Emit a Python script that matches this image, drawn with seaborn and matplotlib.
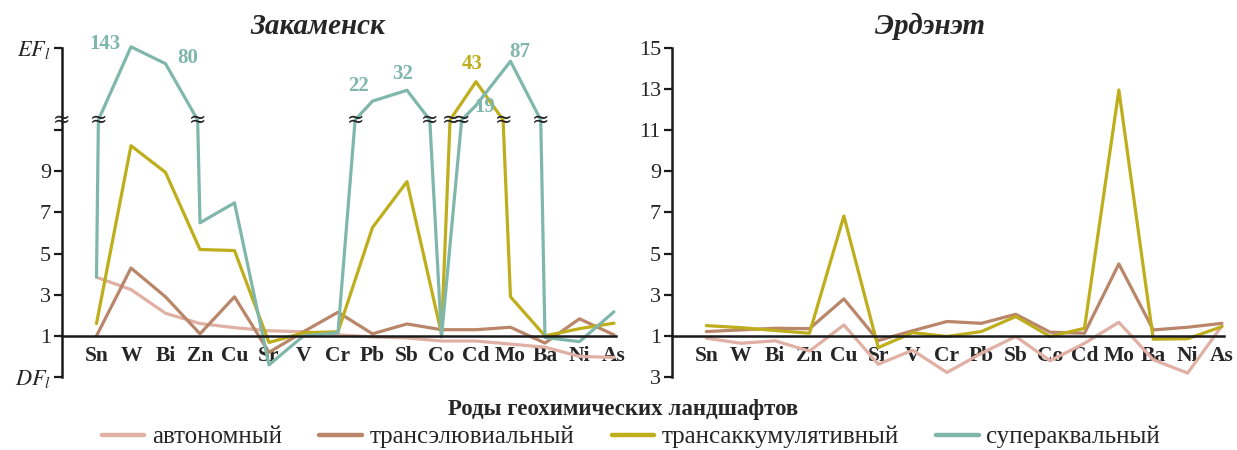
import numpy as np
import matplotlib
matplotlib.use("Agg")
import matplotlib.pyplot as plt
from matplotlib.lines import Line2D
import seaborn as sns

# ---------------- data ----------------
elements = ["Sn", "W", "Bi", "Zn", "Cu", "Sr", "V", "Cr", "Pb", "Sb", "Co", "Cd", "Mo", "Ba", "Ni", "As"]
series_names = ["автономный", "трансэлювиальный", "трансаккумулятивный", "супераквальный"]

# values on the axis scale: >1 is EF, <1 is the DF part below the base line
zak_auto = [3.85, 3.25, 2.1, 1.6, 1.4, 1.25, 1.2, 1.05, 0.95, 0.9, 0.75, 0.75, 0.6, 0.45, 0.0, -0.05]
zak_trans_el = [1.0, 4.3, 2.9, 1.1, 2.9, 0.2, 1.2, 2.15, 1.1, 1.58, 1.3, 1.3, 1.42, 0.65, 1.83, 1.05]
zak_trans_acc = [1.6, 10.25, 8.95, 5.2, 5.15, 0.68, 1.15, 1.2, 6.27, 8.5, 1.1, 43, 2.9, 1.0, 1.35, 1.62]
zak_super = [3.85, 143, 80, 6.5, 7.47, -0.41, 1.0, 1.15, 22, 32, 0.95, 19, 87, 0.92, 0.72, 2.17]

erd_auto = [0.89, 0.64, 0.76, 0.26, 1.53, -0.38, 0.3, -0.78, 0.15, 0.97, -0.21, 0.64, 1.66, -0.16, -0.81, 1.49]
erd_trans_el = [1.21, 1.29, 1.37, 1.35, 2.8, 0.77, 1.25, 1.7, 1.61, 2.05, 1.18, 1.13, 4.5, 1.29, 1.42, 1.61]
erd_trans_acc = [1.5, 1.4, 1.26, 1.13, 6.83, 0.43, 1.16, 0.97, 1.21, 1.94, 0.97, 1.37, 12.96, 0.84, 0.86, 1.45]

colors = ["#dfb0a3", "#b9866a", "#bfae1c", "#80b7ab"]

# upper (broken) part of the left axis
BREAK = 11.5
K = 3.25

sns.set_theme(style="white")
plt.rcParams["font.family"] = ["Liberation Serif", "DejaVu Serif"]
plt.rcParams["mathtext.fontset"] = "stix"


def to_pos(v):
    return v if v <= BREAK else BREAK + np.log10(v / BREAK) * K


def broken_path(vals):
    xs, ys, cuts = [], [], []
    for i, v in enumerate(vals):
        if i and (vals[i - 1] - BREAK) * (v - BREAK) < 0:
            t = (BREAK - vals[i - 1]) / (v - vals[i - 1])
            xs.append(i - 1 + t)
            ys.append(BREAK)
            cuts.append(i - 1 + t)
        xs.append(i)
        ys.append(to_pos(v))
    return xs, ys, cuts


W, H = 1237, 450
fig = plt.figure(figsize=(W / 100, H / 100), dpi=100)
bot = 1 - 377 / H
hgt = (377 - 48) / H
ax1 = fig.add_axes([62 / W, bot, (615.7 - 62) / W, hgt])
ax2 = fig.add_axes([672 / W, bot, (1223.7 - 672) / W, hgt])


def style_axis(ax, ylabels):
    ax.set_xlim(-1, 15.05)
    ax.set_ylim(-1, 15)
    ax.patch.set_alpha(0)
    for s in ["top", "right"]:
        ax.spines[s].set_visible(False)
    ax.spines["left"].set_linewidth(1.8)
    ax.spines["left"].set_color("#1a1a1a")
    ax.spines["bottom"].set_position(("data", 1))
    ax.spines["bottom"].set_linewidth(1.8)
    ax.spines["bottom"].set_color("#1a1a1a")
    ax.set_xticks(range(len(elements)))
    ax.set_xticklabels(elements, fontsize=15.5, fontweight="bold")
    ax.tick_params(axis="x", direction="in", length=4, width=1.2, pad=7, color="#1a1a1a")
    ax.set_yticks(list(ylabels.keys()))
    ax.set_yticklabels(list(ylabels.values()), fontsize=16)
    ax.tick_params(axis="y", direction="out", length=6, width=1.6, pad=2, color="#1a1a1a", left=True)
    ax.set_xlabel("")
    ax.set_ylabel("")


# ---- left panel: Закаменск ----
zak = [zak_auto, zak_trans_el, zak_trans_acc, zak_super]
all_cuts = []
for vals, c in zip(zak, colors):
    xs, ys, cuts = broken_path(vals)
    sns.lineplot(x=xs, y=ys, sort=False, estimator=None, color=c, lw=2.3, ax=ax1, clip_on=False)
    all_cuts += cuts
for xc in all_cuts:
    ax1.text(xc, BREAK, "≈", ha="center", va="center", fontsize=15, color="#222222", zorder=6,
             family="DejaVu Sans")
ax1.text(-1, BREAK, "≈", ha="center", va="center", fontsize=15, color="#222222", zorder=6,
         family="DejaVu Sans", clip_on=False)

style_axis(ax1, {-1: "$DF_l$", 1: "1", 3: "3", 5: "5", 7: "7", 9: "9", 11: "", 15: "$EF_l$"})

# value labels for the broken part
labels = [
    (zak_super, 1, (-19, 2), colors[3]),
    (zak_super, 2, (16, 4), colors[3]),
    (zak_super, 8, (-10, 11), colors[3]),
    (zak_super, 9, (-3, 12), colors[3]),
    (zak_trans_acc, 11, (-3, 13), colors[2]),
    (zak_super, 12, (7, 7), colors[3]),
    (zak_super, 11, (6, -1), colors[3]),
]
for vals, i, off, c in labels:
    ax1.annotate(f"{vals[i]:g}", (i, to_pos(vals[i])), xytext=off, textcoords="offset points",
                 ha="center", va="center", fontsize=15, fontweight="bold", color=c,
                 annotation_clip=False, zorder=7)

# ---- right panel: Эрдэнэт ----
erd = [erd_auto, erd_trans_el, erd_trans_acc]
for vals, c in zip(erd, colors):
    sns.lineplot(x=list(range(len(vals))), y=vals, sort=False, estimator=None, color=c, lw=2.3,
                 ax=ax2, clip_on=False)
style_axis(ax2, {-1: "3", 1: "1", 3: "3", 5: "5", 7: "7", 9: "9", 11: "11", 13: "13", 15: "15"})

# titles and legend
fig.text(318 / W, 1 - 26 / H, "Закаменск", ha="center", va="center", fontsize=21,
         fontweight="bold", style="italic")
fig.text(930 / W, 1 - 26 / H, "Эрдэнэт", ha="center", va="center", fontsize=21,
         fontweight="bold", style="italic")
fig.text(623 / W, 1 - 409 / H, "Роды геохимических ландшафтов", ha="center", va="center",
         fontsize=16.5, fontweight="bold")

handles = [Line2D([0], [0], color=c, lw=3.2) for c in colors]
fig.legend(handles, series_names, loc="center", bbox_to_anchor=(631 / W, 1 - 437 / H), ncol=4,
           frameon=False, fontsize=18, handlelength=1.7, handletextpad=0.3, columnspacing=1.5,
           borderpad=0, borderaxespad=0)

fig.savefig("out.png", dpi=100)
